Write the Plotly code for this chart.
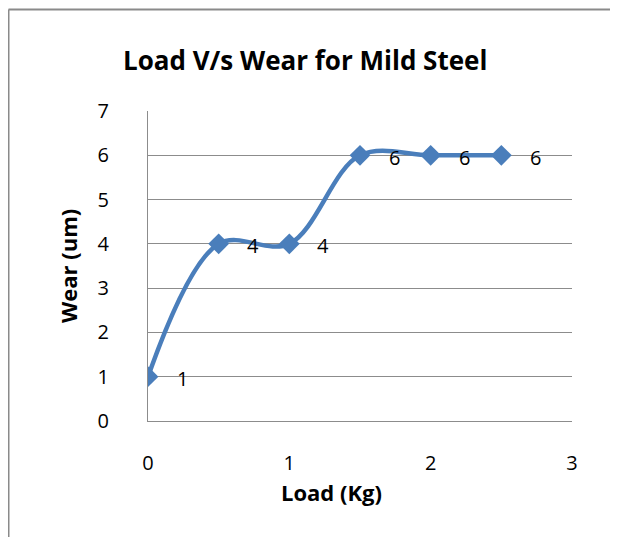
import plotly.graph_objects as go

load_kg = [0, 0.5, 1, 1.5, 2, 2.5]
wear_um = [1, 4, 4, 6, 6, 6]
x_ticks = [0, 1, 2, 3]
y_ticks = [0, 1, 2, 3, 4, 5, 6, 7]

BLUE = "#4A7EBB"
GRID = "#8C8C8C"
FONT = "Open Sans"

fig = go.Figure()
fig.add_trace(go.Scatter(
    x=load_kg, y=wear_um, mode="lines+markers",
    line=dict(color=BLUE, width=4.5, shape="spline", smoothing=1),
    marker=dict(symbol="diamond", size=16, color=BLUE),
    showlegend=False, hoverinfo="x+y",
))

for xv, yv in zip(load_kg, wear_um):
    fig.add_annotation(x=xv, y=yv, text=str(yv), showarrow=False,
                       xanchor="center", yanchor="middle",
                       xshift=34, yshift=-2,
                       font=dict(family=FONT, size=20, color="#000000"))

# page offset (browser body margin)
OFF = 8
W, H = 618 - OFF, 537 - OFF
# plot area in page pixels: x 148..572, y 111..421
L, R, T, B = 148 - OFF, (618 - OFF) - (572 - OFF), 111 - OFF, (537 - OFF) - (421 - OFF)
pw, ph = W - L - R, H - T - B

def px(xpage):
    return (xpage - OFF - L) / pw

def py(ypage):
    return (H - B - (ypage - OFF)) / ph

# chart area border (left and top edges)
fig.add_shape(type="line", xref="paper", yref="paper",
              x0=px(8.5), x1=px(640), y0=py(9.5), y1=py(9.5),
              line=dict(color="#8A8A8A", width=2))
fig.add_shape(type="line", xref="paper", yref="paper",
              x0=px(8.5), x1=px(8.5), y0=py(9.5), y1=py(560),
              line=dict(color="#8A8A8A", width=2))

fig.add_annotation(xref="paper", yref="paper", x=px(305), y=py(60),
                   xanchor="center", yanchor="middle",
                   text="<b>Load V/s Wear for Mild Steel</b>", showarrow=False,
                   font=dict(family=FONT, size=26, color="#000000"))
fig.add_annotation(xref="paper", yref="paper", x=px(331), y=py(492),
                   xanchor="center", yanchor="middle",
                   text="<b>Load (Kg)</b>", showarrow=False,
                   font=dict(family=FONT, size=22, color="#000000"))
fig.add_annotation(xref="paper", yref="paper", x=px(68), y=py(266),
                   xanchor="center", yanchor="middle",
                   text="<b>Wear (um)</b>", showarrow=False, textangle=-90,
                   font=dict(family=FONT, size=22, color="#000000"))

fig.update_xaxes(range=[0, 3], tickvals=x_ticks, ticktext=[str(v) for v in x_ticks],
                 showgrid=False, zeroline=False, showline=True, linecolor=GRID,
                 linewidth=1, ticks="", ticklabelstandoff=24,
                 tickfont=dict(family=FONT, size=20, color="#000000"))
fig.update_yaxes(range=[0, 7], tickvals=y_ticks, ticktext=[str(v) for v in y_ticks],
                 showgrid=True, gridcolor=GRID, gridwidth=1, zeroline=False,
                 showline=True, linecolor=GRID, linewidth=1, ticks="",
                 ticklabelstandoff=34,
                 tickfont=dict(family=FONT, size=20, color="#000000"))

fig.update_layout(
    width=W, height=H,
    margin=dict(l=L, r=R, t=T, b=B),
    paper_bgcolor="white", plot_bgcolor="white",
    font=dict(family=FONT),
)

fig.write_html("out.html")
